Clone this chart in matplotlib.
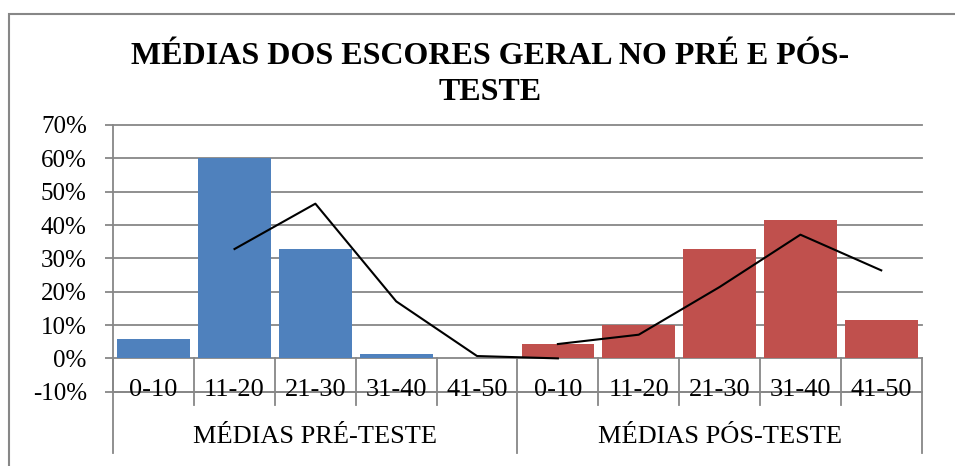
import matplotlib
matplotlib.use('Agg')
import matplotlib.pyplot as plt
from matplotlib.patches import Rectangle

# values (percent)
ranges = ['0-10', '11-20', '21-30', '31-40', '41-50']
groups = ['MÉDIAS PRÉ-TESTE', 'MÉDIAS PÓS-TESTE']
pre_vals = [5.7, 60.0, 32.8, 1.4, 0.0]
post_vals = [4.3, 9.9, 32.8, 41.4, 11.4]
# 2-period moving average trendlines as drawn
pre_trend = [32.8, 46.4, 17.1, 0.7, 0.0]
post_trend = [4.3, 7.1, 21.4, 37.1, 26.4]

title = 'MÉDIAS DOS ESCORES GERAL NO PRÉ E PÓS-\nTESTE'
yticks = list(range(-10, 71, 10))

blue = '#4F81BD'
red = '#C0504D'
grid_c = '#878787'
serif = ['Liberation Serif', 'DejaVu Serif']

plt.rcParams['font.family'] = serif

fig = plt.figure(figsize=(9.55, 4.66), dpi=100)
ax = fig.add_axes([0.1186, 0.1594, 0.8465, 0.5724])

n = len(ranges)
xpre = list(range(n))
xpost = list(range(n, 2 * n))

ax.bar(xpre, pre_vals, width=0.9, color=blue, zorder=2)
ax.bar(xpost, post_vals, width=0.9, color=red, zorder=2)
ax.plot(xpre[1:] + [xpost[0]], pre_trend, color='black', lw=1.5, zorder=3)
ax.plot(xpost, post_trend, color='black', lw=1.5, zorder=3)

ax.set_xlim(-0.5, 2 * n - 0.5)
ax.set_ylim(-10, 70)
ax.set_yticks(yticks)
ax.set_yticklabels(['{}%'.format(v) for v in yticks], fontsize=18)
ax.tick_params(axis='y', length=6, width=1.3, color=grid_c, pad=13)
ax.set_xticks([])

for v in yticks:
    ax.axhline(v, color=grid_c, lw=1.3, zorder=1, clip_on=False)
# bottom gridline runs through the category labels
ax.plot([0, 1], [0, 0], transform=ax.transAxes, color=grid_c, lw=1.3,
        clip_on=False, zorder=3)

for s in ['top', 'right', 'bottom']:
    ax.spines[s].set_visible(False)
ax.spines['left'].set_color(grid_c)
ax.spines['left'].set_linewidth(1.3)

# category axis: separators and labels
tr = ax.get_xaxis_transform()
y0 = 10 / 80.0
for i in range(2 * n + 1):
    x = i - 0.5
    ybot = -0.2287 if i % n == 0 else -0.05
    ax.plot([x, x], [y0, ybot], transform=tr, color=grid_c, lw=1.3,
            clip_on=False, zorder=1)

for i, lab in enumerate(ranges * 2):
    ax.text(i, 0.005, lab, transform=tr, ha='center', va='center',
            fontsize=19, zorder=6)

for g, lab in enumerate(groups):
    ax.text(g * n + (n - 1) / 2.0, -0.171, lab, transform=tr, ha='center',
            va='center', fontsize=19)

fig.text(0.513, 0.841, title, ha='center', va='center', fontsize=23,
         fontweight='bold', linespacing=1.32)

# outer chart frame
fig.patches.append(Rectangle((9 / 955.0, -0.1), 1.2, 1 - 14 / 466.0 + 0.1,
                             transform=fig.transFigure, fill=False,
                             edgecolor=grid_c, lw=1.5))

fig.savefig('out.png', dpi=100)
